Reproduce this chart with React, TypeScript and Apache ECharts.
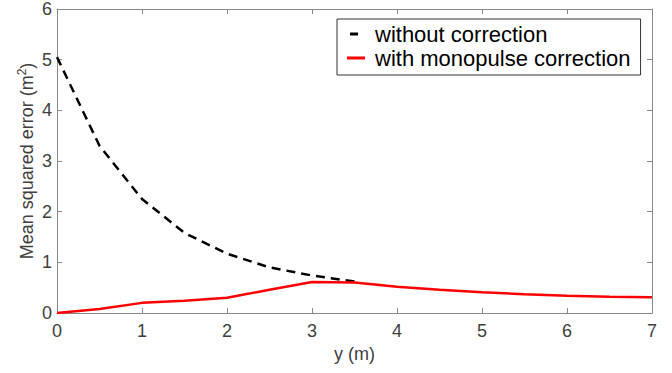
import React, { useEffect, useRef } from "react";
import * as echarts from "echarts";

const xValues = [0, 0.5, 1, 1.5, 2, 2.5, 3, 3.5, 4, 4.5, 5, 5.5, 6, 6.5, 7];
const withoutCorrection = [5.05, 3.3, 2.25, 1.58, 1.17, 0.9, 0.74, 0.62];
const withCorrection = [0, 0.08, 0.2, 0.24, 0.3, 0.46, 0.61, 0.6, 0.52, 0.46, 0.41, 0.37, 0.34, 0.32, 0.31];
const seriesNames = ["without correction", "with monopulse correction"];

const FONT = "Liberation Sans, Arial, sans-serif";
const AXIS_GRAY = "#888888";
const LABEL_GRAY = "#404040";

export default function App() {
  const ref = useRef<HTMLDivElement>(null);
  useEffect(() => {
    if (!ref.current) return;
    const chart = echarts.init(ref.current, undefined, { renderer: "svg" });
    const pairs = (vals: number[]) => vals.map((v, i) => [xValues[i], v]);
    const axisCommon = {
      min: 0,
      interval: 1,
      axisLine: { show: true, onZero: false, lineStyle: { color: AXIS_GRAY, width: 1 } },
      axisTick: { show: true, inside: true, length: 5, lineStyle: { color: AXIS_GRAY } },
      splitLine: { show: false },
    };
    chart.setOption({
      animation: false,
      backgroundColor: "#ffffff",
      grid: { left: 57, right: 20, top: 6, bottom: 60, containLabel: false },
      textStyle: { fontFamily: FONT },
      xAxis: [
        {
          ...axisCommon,
          type: "value",
          max: 7,
          position: "bottom",
          name: "y (m)",
          nameLocation: "middle",
          nameGap: 32,
          nameTextStyle: { fontSize: 18, color: LABEL_GRAY, fontFamily: FONT },
          axisLabel: { fontSize: 18, color: LABEL_GRAY, margin: 9, fontFamily: FONT },
        },
        {
          ...axisCommon,
          type: "value",
          max: 7,
          position: "top",
          axisLabel: { show: false },
        },
      ],
      yAxis: [
        {
          ...axisCommon,
          type: "value",
          max: 6,
          position: "left",
          name: "Mean squared error (m{sup|2})",
          nameLocation: "middle",
          nameGap: 20,
          nameMoveOverlap: false,
          nameTextStyle: {
            fontSize: 18,
            color: LABEL_GRAY,
            fontFamily: FONT,
            rich: { sup: { fontSize: 12, color: LABEL_GRAY, verticalAlign: "top", padding: [0, 0, 9, 0], fontFamily: FONT } },
          },
          axisLabel: { fontSize: 18, color: LABEL_GRAY, margin: 5, fontFamily: FONT },
        },
        {
          ...axisCommon,
          type: "value",
          max: 6,
          position: "right",
          axisLabel: { show: false },
        },
      ],
      legend: {
        orient: "vertical",
        left: 337,
        top: 19,
        backgroundColor: "#ffffff",
        borderColor: "#333333",
        borderWidth: 1,
        borderRadius: 0,
        padding: [4, 10, 6, 10],
        itemGap: 2,
        itemWidth: 18,
        itemHeight: 3,
        textStyle: { fontSize: 22, color: "#000000", fontFamily: FONT, padding: [0, 0, 0, 5] },
        data: [
          {
            name: seriesNames[0],
            icon: "path://M3,0 L11,0 L11,3 L3,3 Z M0,0 L0.05,0 L0.05,0.05 Z M17.95,2.95 L18,2.95 L18,3 Z",
            itemStyle: { color: "#000000" },
          },
          { name: seriesNames[1], icon: "rect", itemStyle: { color: "#ff0000" } },
        ],
      },
      series: [
        {
          name: seriesNames[0],
          type: "line",
          data: pairs(withoutCorrection),
          symbol: "none",
          smooth: false,
          lineStyle: { color: "#000000", width: 2.5, type: [9, 6] },
          itemStyle: { color: "#000000" },
          z: 3,
        },
        {
          name: seriesNames[1],
          type: "line",
          data: pairs(withCorrection),
          symbol: "none",
          smooth: false,
          lineStyle: { color: "#ff0000", width: 2.5 },
          itemStyle: { color: "#ff0000" },
          z: 4,
        },
      ],
    });
    return () => chart.dispose();
  }, []);
  return <div ref={ref} style={{ width: 672, height: 373, position: "absolute", left: 0, top: 0 }} />;
}
